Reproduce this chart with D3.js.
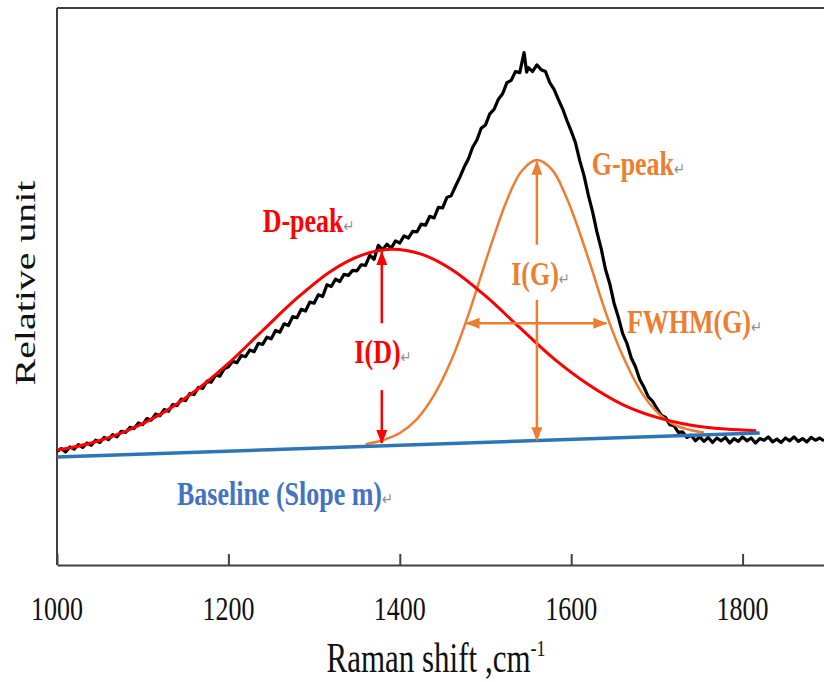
<!DOCTYPE html>
<html>
<head>
<meta charset="utf-8">
<script src="https://cdn.jsdelivr.net/npm/d3@7"></script>
<style>
  body { margin: 0; background: #fff; }
  svg { display: block; }
  text { font-family: "Liberation Serif", "Times New Roman", serif; }
</style>
</head>
<body>
<svg id="chart" width="824" height="682"></svg>
<script>
const shift = [1000,1005,1010,1015,1020,1025,1030,1035,1040,1045,1050,1055,1060,1065,1070,1075,1080,1085,1090,1095,
  1100,1105,1110,1115,1120,1125,1130,1135,1140,1145,1150,1155,1160,1165,1170,1175,1180,1185,1190,1195,
  1200,1205,1210,1215,1220,1225,1230,1235,1240,1245,1250,1255,1260,1265,1270,1275,1280,1285,1290,1295,
  1300,1305,1310,1315,1320,1325,1330,1335,1340,1345,1350,1355,1360,1365,1370,1375,1380,1385,1390,1395,
  1400,1405,1410,1415,1420,1425,1430,1435,1440,1445,1450,1455,1460,1465,1470,1475,1480,1485,1490,1495,
  1500,1505,1510,1515,1520,1525,1530,1535,1540,1545,1548,1550,1555,1560,1565,1570,1575,1580,1585,1590,
  1595,1600,1605,1610,1615,1620,1625,1630,1635,1640,1645,1650,1655,1660,1665,1670,1675,1680,1685,1690,
  1695,1700,1705,1710,1715,1720,1725,1730,1735,1740,1745,1750,1755,1760,1765,1770,1775,1780,1785,1790,
  1795,1800,1805,1810,1815,1820,1825,1830,1835,1840,1845,1850,1855,1860,1865,1870,1875,1880,1885,1890,1895];
const signal = [20.4,20.9,20.3,21.2,20.8,21.6,21.1,21.9,21.5,22.4,22.0,22.9,22.5,23.4,23.0,24.0,23.8,24.7,24.5,25.5,
  25.2,26.3,26.0,27.1,26.8,27.9,27.6,28.8,28.6,29.8,29.5,30.8,30.6,31.9,31.7,33.0,32.8,34.1,33.9,35.2,
  35.6,36.6,36.3,37.6,37.4,38.6,38.3,39.8,39.6,40.9,40.6,42.1,41.8,43.3,43.0,44.6,44.4,45.9,45.6,47.2,
  47.0,48.5,48.2,50.3,50.0,51.3,50.9,52.2,52.0,52.9,52.8,53.9,53.8,55.6,54.9,57.4,56.6,57.6,56.9,58.2,
  57.8,59.1,58.7,59.9,59.8,61.2,61.0,62.6,62.3,64.2,64.1,66.0,66.3,68.0,69.6,71.4,72.9,75.0,76.3,78.4,
  79.0,81.0,81.8,83.6,84.6,86.6,87.0,88.6,88.4,92.0,88.5,89.3,88.6,89.8,88.9,88.6,86.6,85.4,83.6,81.9,
  79.8,77.9,75.8,72.6,69.9,66.4,63.4,59.8,56.8,53.1,50.5,47.0,44.5,41.6,39.8,37.2,35.6,33.3,31.9,30.2,
  29.4,28.1,26.9,26.5,25.2,25.0,23.8,23.9,22.9,23.3,22.3,23.0,22.2,22.9,22.0,22.8,22.3,22.9,21.9,22.7,
  22.2,23.0,22.3,22.8,21.9,22.7,22.4,23.0,22.1,22.6,22.0,22.8,22.3,23.0,22.2,22.7,22.1,22.9,22.4,22.8,22.3];

// D-peak fit (red)
const dShift = [1000,1040,1080,1120,1160,1200,1240,1280,1320,1355,1390,1425,1460,1500,1540,1580,1620,1660,1700,1740,1780,1816];
const dFit   = [20.6,21.9,24.0,27.0,31.1,36.2,42.1,47.9,52.8,55.6,56.7,55.8,53.1,48.3,42.6,37.0,32.4,28.8,26.5,25.1,24.4,24.1];

// G-peak fit (orange)
const gShift = [1360,1380,1400,1420,1440,1460,1478,1497,1510,1525,1542,1560,1578,1595,1610,1623,1642,1660,1680,1700,1720,1740,1755];
const gFit   = [21.7,22.4,23.7,26.2,30.5,36.7,44.0,53.0,59.1,65.5,70.7,72.7,70.9,65.8,59.6,53.6,44.6,37.6,31.5,27.5,25.2,24.2,23.8];

// baseline (blue)
const baseShift = [1000, 1820];
const baseLevel = [19.4, 23.7];

const xTicks = [1000, 1200, 1400, 1600, 1800];

// annotation arrows, in data units
const iD = { at: 1379, top: 56.2, upperEnd: 43.4, lowerStart: 31.4, bottom: 21.9 };
const iG = { at: 1560, top: 72.4, upperEnd: 57.5, lowerStart: 47.6, bottom: 22.4 };
const fwhm = { level: 43.4, from: 1478, to: 1641 };

const labels = [
  { text: "D-peak", x: 1240, y: 59.8, color: "#ff0000" },
  { text: "I(D)", x: 1347, y: 36.3, color: "#ff0000" },
  { text: "G-peak", x: 1624, y: 70.0, color: "#ed7d31" },
  { text: "I(G)", x: 1530, y: 50.3, color: "#ed7d31" },
  { text: "FWHM(G)", x: 1665, y: 41.7, color: "#ed7d31" },
  { text: "Baseline (Slope m)", x: 1140, y: 10.8, color: "#4472c4" }
];

const svg = d3.select("#chart");
const stretch = 1.33;

const x = d3.scaleLinear().domain([1000, 1895]).range([57, 824]);
const y = d3.scaleLinear().domain([0, 100]).range([565, 8]);

// arrow heads
const defs = svg.append("defs");
[["arrRed", "#ff0000"], ["arrOrange", "#ed7d31"]].forEach(([id, c]) => {
  defs.append("marker")
    .attr("id", id)
    .attr("markerUnits", "userSpaceOnUse")
    .attr("viewBox", "0 0 14 11")
    .attr("markerWidth", 14).attr("markerHeight", 11)
    .attr("refX", 13).attr("refY", 5.5)
    .attr("orient", "auto-start-reverse")
    .append("path")
    .attr("d", "M0,0 L14,5.5 L0,11 Z")
    .attr("fill", c);
});

// frame
svg.append("line")
  .attr("x1", x(1000)).attr("x2", 824)
  .attr("y1", y(100)).attr("y2", y(100))
  .attr("stroke", "#404040").attr("stroke-width", 2);
svg.append("line")
  .attr("x1", x(1000)).attr("x2", x(1000))
  .attr("y1", y(100)).attr("y2", y(0))
  .attr("stroke", "#404040").attr("stroke-width", 2);

const xAxis = svg.append("g")
  .attr("transform", `translate(0,${y(0)})`)
  .call(d3.axisBottom(x).tickValues(xTicks).tickSizeInner(-11).tickSizeOuter(0));
xAxis.select(".domain").attr("stroke", "#404040").attr("stroke-width", 2);
xAxis.selectAll(".tick line").attr("stroke", "#404040").attr("stroke-width", 2);
xAxis.selectAll(".tick text").remove();

svg.append("g").selectAll("text")
  .data(xTicks).enter()
  .append("text")
  .attr("transform", d => `translate(${x(d)},620) scale(1,${stretch})`)
  .attr("text-anchor", "middle")
  .attr("font-size", 26)
  .attr("fill", "#111")
  .text(d => d);

// axis titles
const xt = svg.append("text")
  .attr("transform", `translate(436,672) scale(1,${stretch})`)
  .attr("text-anchor", "middle")
  .attr("font-size", 31)
  .attr("fill", "#111");
xt.append("tspan").text("Raman shift ,cm");
xt.append("tspan").attr("font-size", 18).attr("dy", -12).text("-1");

svg.append("text")
  .attr("transform", `translate(35,283) scale(1,${stretch}) rotate(-90)`)
  .attr("text-anchor", "middle")
  .attr("font-size", 30)
  .attr("fill", "#111")
  .text("Relative unit");

// curves
const line = d3.line().x(d => x(d[0])).y(d => y(d[1]));
const smooth = d3.line().x(d => x(d[0])).y(d => y(d[1])).curve(d3.curveCatmullRom);

svg.append("path")
  .datum(d3.zip(shift, signal))
  .attr("d", line)
  .attr("fill", "none")
  .attr("stroke", "#000")
  .attr("stroke-width", 3.2)
  .attr("stroke-linejoin", "round");

svg.append("path")
  .datum(d3.zip(gShift, gFit))
  .attr("d", smooth)
  .attr("fill", "none")
  .attr("stroke", "#ed7d31")
  .attr("stroke-width", 2.5);

svg.append("path")
  .datum(d3.zip(dShift, dFit))
  .attr("d", smooth)
  .attr("fill", "none")
  .attr("stroke", "#ff0000")
  .attr("stroke-width", 3);

svg.append("path")
  .datum(d3.zip(baseShift, baseLevel))
  .attr("d", line)
  .attr("fill", "none")
  .attr("stroke", "#2e75b6")
  .attr("stroke-width", 3.5);

// arrows
function arrow(x1, y1, x2, y2, color, marker, both) {
  const l = svg.append("line")
    .attr("x1", x(x1)).attr("y1", y(y1))
    .attr("x2", x(x2)).attr("y2", y(y2))
    .attr("stroke", color).attr("stroke-width", 2.5)
    .attr("marker-end", `url(#${marker})`);
  if (both) l.attr("marker-start", `url(#${marker})`);
}
arrow(iD.at, iD.upperEnd, iD.at, iD.top, "#ff0000", "arrRed");
arrow(iD.at, iD.lowerStart, iD.at, iD.bottom, "#ff0000", "arrRed");
arrow(iG.at, iG.upperEnd, iG.at, iG.top, "#ed7d31", "arrOrange");
arrow(iG.at, iG.lowerStart, iG.at, iG.bottom, "#ed7d31", "arrOrange");
arrow(fwhm.from, fwhm.level, fwhm.to, fwhm.level, "#ed7d31", "arrOrange", true);

// labels with Word's paragraph mark
const lab = svg.append("g").selectAll("text")
  .data(labels).enter()
  .append("text")
  .attr("transform", d => `translate(${x(d.x)},${y(d.y)}) scale(1,${stretch})`)
  .attr("font-size", 26)
  .attr("font-weight", "bold")
  .attr("fill", d => d.color);
lab.append("tspan").text(d => d.text);
lab.append("tspan")
  .attr("font-family", "DejaVu Sans")
  .attr("font-weight", "normal")
  .attr("font-size", 13)
  .attr("fill", "#8c8c8c")
  .text("\u21B5");
</script>
</body>
</html>
